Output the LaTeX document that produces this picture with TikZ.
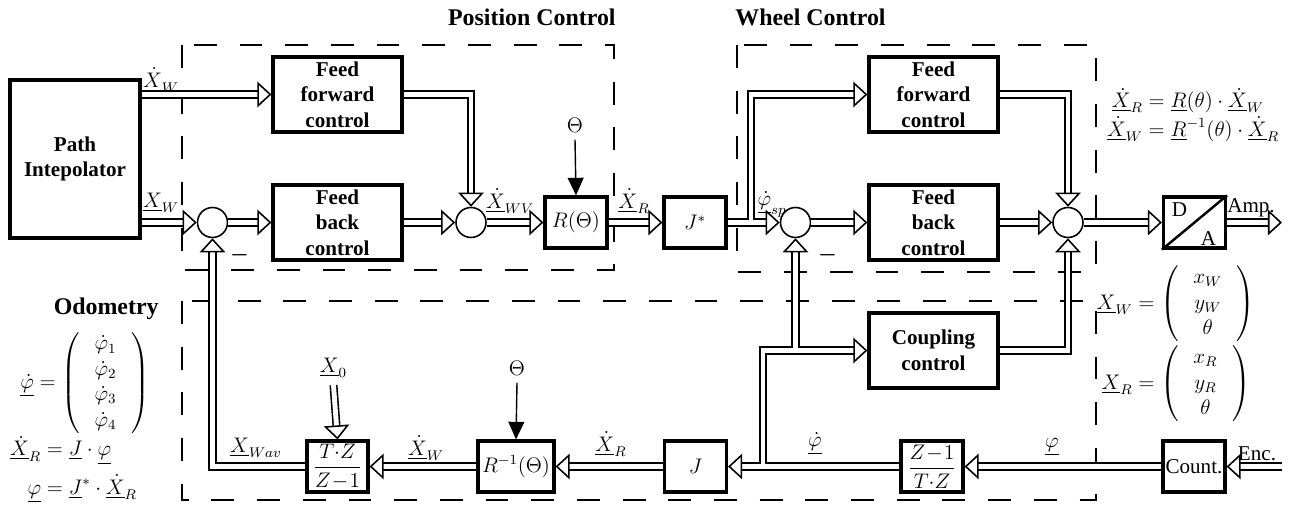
\documentclass[tikz,border=0pt,12pt]{standalone}
\usepackage{amsmath,amssymb}
\usepackage[no-math]{fontspec}
\setmainfont{Liberation Serif}[BoldFont={Liberation Serif Bold}]
\usepackage{tikz}
\usetikzlibrary{arrows.meta,calc}

\begin{document}
\begin{tikzpicture}[
  every node/.style={font=\normalsize},
  block/.style={draw, line width=1.8pt, minimum width=2.58cm, minimum height=1.50cm,
                align=center, font=\bfseries, inner sep=1pt},
  sblock/.style={draw, line width=1.8pt, minimum width=1.24cm, minimum height=1.02cm, inner sep=1pt},
  sumnode/.style={draw, circle, line width=0.9pt, minimum size=0.60cm, inner sep=0pt},
  sig/.style={double, double distance=2.8pt, line width=0.9pt,
              -{Triangle[length=8pt, width=14.5pt, line width=0.9pt, fill=white]}},
  ctrl/.style={line width=1.5pt, dash pattern=on 13pt off 13pt},
  thetaarrow/.style={line width=0.8pt, -{Triangle[length=10pt, width=9pt]}},
  grptitle/.style={font=\fontsize{13.6}{15}\selectfont\bfseries},
]
\useasboundingbox (0,0) rectangle (25.82,10.16);

%% ── Group frames and titles ────────────────────────────────────────────────
\draw[ctrl] (3.64, 9.26) rectangle (12.28, 4.76);
\draw[ctrl] (14.74, 9.26) rectangle (21.92, 4.72);
\draw[ctrl] (3.64, 4.14) rectangle (21.92, 0.16);
\node[grptitle, anchor=east] (tpos) at (12.46, 9.82) {Position Control};
\node[grptitle, anchor=west] (twhl) at (14.56, 9.82) {Wheel Control};
\node[grptitle, anchor=east] (todo) at (3.32, 3.98) {Odometry};

%% ── Position control ───────────────────────────────────────────────────────
\node[block, minimum width=2.60cm, minimum height=3.16cm] (pint) at (1.50, 6.98) {Path\\Intepolator};
\node[block] (ffl) at (6.75, 8.27) {Feed\\forward\\control};
\node[block] (fbl) at (6.75, 5.71) {Feed\\back\\control};
\node[sumnode] (sum1) at (4.25, 5.71) {};
\node[sumnode] (sum2) at (9.42, 5.71) {};
\node[sblock] (rot) at (11.52, 5.71) {$R(\Theta)$};
\node (theta1) at (11.50, 7.66) {$\Theta$};
\node[sblock] (jst) at (13.90, 5.71) {$J^{*}$};

\draw[sig] (pint.east |- ffl.west) -- (ffl.west);
\draw[sig] (pint.east |- sum1.west) -- (sum1.west);
\draw[sig] (sum1.east) -- (fbl.west);
\draw[sig] (fbl.east) -- (sum2.west);
\draw[sig] (ffl.east) -| (sum2.north);
\draw[sig] (sum2.east) -- (rot.west);
\draw[sig] (rot.east) -- (jst.west);
\draw[thetaarrow] (theta1.south) -- (rot.north);

\node (lblXWd) at (3.22, 8.56) {$\underline{\dot X}_W$};
\node (lblXW) at (3.22, 6.10) {$\underline{X}_W$};
\node (lblXWV) at (10.20, 6.14) {$\underline{\dot X}_{WV}$};
\node (lblXR) at (12.68, 6.14) {$\underline{\dot X}_R$};
\node (minus1) at (4.79, 5.06) {$\boldsymbol{-}$};

%% ── Wheel control ──────────────────────────────────────────────────────────
\node[sumnode] (sum3) at (15.91, 5.71) {};
\node[block] (ffr) at (18.67, 8.27) {Feed\\forward\\control};
\node[block] (fbr) at (18.67, 5.71) {Feed\\back\\control};
\node[sumnode] (sum4) at (21.36, 5.71) {};
\node[block] (coup) at (18.67, 3.15) {Coupling\\control};
\node[sblock] (da) at (23.89, 5.71) {};
\node (daD) at (23.59, 5.96) {D};
\node (daA) at (24.17, 5.38) {A};
\coordinate (brtop) at (15.02, 5.71);
\coordinate (ampend) at (25.64, 5.71);

\draw[sig] (jst.east) -- (sum3.west);
\draw[sig] ([yshift=1.4pt]brtop) |- (ffr.west);
\draw[sig] (sum3.east) -- (fbr.west);
\draw[sig] (fbr.east) -- (sum4.west);
\draw[sig] (ffr.east) -| (sum4.north);
\draw[sig] (coup.east) -| (sum4.south);
\draw[sig] (sum4.east) -- (da.west);
\draw[sig] (da.east) -- (ampend);
\draw[line width=1.4pt] (da.south west) -- (da.north east);

\node (lblphisp) at (15.44, 6.08) {$\underline{\dot\varphi}_{sp}$};
\node (lblamp) at (25.02, 6.00) {Amp.};
\node (minus2) at (16.55, 5.06) {$\boldsymbol{-}$};

%% ── Odometry ───────────────────────────────────────────────────────────────
\node[sblock] (cnt) at (23.88, 0.83) {Count.};
\node[sblock] (dz) at (18.64, 0.83) {$\dfrac{Z\!-\!1}{T{\cdot}Z}$};
\node[sblock] (jac) at (13.91, 0.83) {$J$};
\node[sblock, minimum width=1.52cm] (rinv) at (10.32, 0.83) {$R^{-1}(\Theta)$};
\node[sblock, minimum width=1.22cm] (integ) at (6.75, 0.83) {$\dfrac{T{\cdot}Z}{Z\!-\!1}$};
\node (theta2) at (10.34, 2.80) {$\Theta$};
\node (lblX0) at (6.67, 2.80) {$\underline{X}_0$};
\coordinate (encin) at (25.64, 0.83);
\coordinate (brbot) at (15.26, 0.83);
\coordinate (brmid) at (15.91, 3.15);

\draw[sig] (encin) -- (cnt.east);
\draw[sig] (cnt.west) -- (dz.east);
\draw[sig] (dz.west) -- (jac.east);
\draw[sig] ([yshift=1.4pt]brbot) |- (coup.west);
\draw[sig] ([yshift=1.4pt]brmid) -- (sum3.south);
\draw[sig] (jac.west) -- (rinv.east);
\draw[sig] (rinv.west) -- (integ.east);
\draw[sig] (integ.west) -| (sum1.south);
\draw[sig] (lblX0.south) -- (integ.north);
\draw[thetaarrow] (theta2.south) -- (rinv.north);

\node (lblXWav) at (5.12, 1.20) {$\underline{X}_{Wav}$};
\node (lblXWd2) at (8.52, 1.20) {$\underline{\dot X}_W$};
\node (lblXR2) at (12.22, 1.28) {$\underline{\dot X}_R$};
\node (lblphid) at (16.30, 1.28) {$\underline{\dot\varphi}$};
\node (lblphi) at (21.04, 1.22) {$\underline{\varphi}$};
\node (lblenc) at (25.14, 1.08) {Enc.};

%% ── Relations ──────────────────────────────────────────────────────────────
\node (eqrot) at (23.86, 7.84)
  {$\begin{aligned}
     \underline{\dot X}_R &= \underline{R}(\theta)\cdot\underline{\dot X}_W\\[-3pt]
     \underline{\dot X}_W &= \underline{R}^{-1}(\theta)\cdot\underline{\dot X}_R
   \end{aligned}$};
\node (eqXW) at (23.52, 4.08)
  {$\underline{X}_W = \left(\;\begin{array}{c} x_W\\ y_W\\ \theta \end{array}\;\right)$};
\node (eqXR) at (23.52, 2.48)
  {$\underline{X}_R = \left(\;\begin{array}{c} x_R\\ y_R\\ \theta \end{array}\;\right)$};
\node (eqphid) at (1.70, 2.50)
  {$\underline{\dot\varphi} = \left(\;\begin{array}{c} \dot\varphi_1\\ \dot\varphi_2\\ \dot\varphi_3\\ \dot\varphi_4 \end{array}\;\right)$};
\node (eqjac) at (1.47, 0.77)
  {$\begin{aligned}
     \underline{\dot X}_R &= \underline{J}\cdot\underline{\varphi}\\[2pt]
     \underline{\varphi} &= \underline{J}^{*}\cdot\underline{\dot X}_R
   \end{aligned}$};

\end{tikzpicture}
\end{document}
